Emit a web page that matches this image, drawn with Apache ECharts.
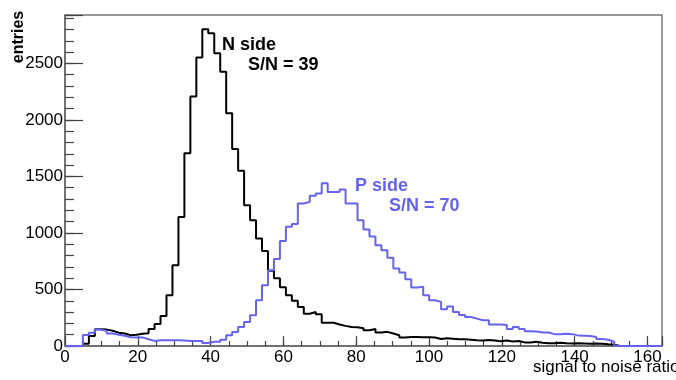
<!DOCTYPE html>
<html>
<head>
<meta charset="utf-8">
<script src="https://cdn.jsdelivr.net/npm/echarts@6/dist/echarts.min.js"></script>
<style>
  html, body { margin: 0; padding: 0; background: #fff; }
  #chart { width: 676px; height: 380px; }
</style>
</head>
<body>
<div id="chart"></div>
<script>
// histogram: 100 bins of width 1.64 from 0 to 164
const X_MAX = 164;
const BIN_WIDTH = 1.64;
const N_BINS = 100;
const Y_MAX = 2928;

// N side entries per bin (bins 0..91, the rest are empty)
const nSide = [
    0, 0, 0, 20, 89, 148, 145, 135, 118, 110,
    95, 100, 108, 112, 150, 195, 265, 449, 714, 1142,
    1704, 2206, 2552, 2802, 2767, 2590, 2427, 2058, 1742, 1550,
    1245, 1113, 951, 841, 665, 600, 520, 450, 400, 345,
    285, 300, 280, 205, 205, 190, 178, 168, 165, 158,
    140, 150, 120, 125, 110, 95, 75, 80, 80, 78,
    78, 75, 62, 68, 65, 60, 60, 55, 50, 48,
    52, 48, 42, 48, 40, 45, 32, 30, 38, 28,
    25, 25, 28, 24, 22, 24, 22, 20, 22, 20,
    15, 12
];

// P side entries per bin
const pSide = [
    0, 0, 0, 98, 118, 145, 132, 110, 100, 90,
    78, 76, 76, 60, 45, 50, 50, 50, 50, 48,
    45, 45, 45, 27, 38, 38, 56, 95, 124, 168,
    213, 272, 405, 537, 670, 770, 928, 1054, 1080, 1260,
    1275, 1330, 1350, 1440, 1363, 1363, 1384, 1260, 1260, 1113,
    1030, 968, 891, 847, 780, 685, 650, 590, 518, 525,
    449, 405, 390, 325, 350, 301, 275, 257, 242, 228,
    228, 190, 190, 185, 150, 168, 150, 130, 128, 120,
    120, 105, 105, 108, 105, 92, 90, 88, 80, 62,
    55, 38
];

const BLUE = '#6464ee';
const font = "'Liberation Sans', Arial, sans-serif";
const TICK = '#444';

function toSteps(vals) {
    let pts = [];
    for (let i = 0; i < N_BINS; i++) {
        pts.push([i * BIN_WIDTH, vals[i] || 0]);
    }
    pts.push([X_MAX, 0]);
    return pts;
}

let chart = echarts.init(document.getElementById('chart'), null, { renderer: 'canvas' });

let option = {
    animation: false,
    backgroundColor: '#fff',
    grid: {
        left: 65, right: 14, top: 15, bottom: 34,
        show: true, borderColor: '#777', borderWidth: 1.5
    },
    xAxis: [ {
        type: 'value', min: 0, max: X_MAX, interval: 20,
        axisLine: { show: true, onZero: false, lineStyle: { color: '#666', width: 1.5 } },
        axisTick: { show: true, inside: true, length: 10, lineStyle: { color: TICK, width: 1.2 } },
        splitLine: { show: false },
        axisLabel: {
            margin: 3, color: '#000', fontSize: 17, fontFamily: font,
            formatter: function (v) { return v % 20 === 0 ? String(v) : ''; }
        }
    }, {
        type: 'value', min: 0, max: X_MAX, interval: 5, position: 'bottom',
        axisLine: { show: false, onZero: false },
        axisTick: { show: true, inside: true, length: 5, lineStyle: { color: TICK, width: 1.2 } },
        splitLine: { show: false },
        axisLabel: { show: false }
    } ],
    yAxis: [ {
        type: 'value', min: 0, max: Y_MAX, interval: 500,
        axisLine: { show: true, onZero: false, lineStyle: { color: '#666', width: 1.5 } },
        axisTick: { show: true, inside: true, length: 18, lineStyle: { color: TICK, width: 1.2 } },
        splitLine: { show: false },
        axisLabel: {
            margin: 2, color: '#000', fontSize: 17, fontFamily: font,
            formatter: function (v) { return v % 500 === 0 ? String(v) : ''; }
        }
    }, {
        type: 'value', min: 0, max: Y_MAX, interval: 100, position: 'left', offset: 0,
        axisLine: { show: false, onZero: false },
        axisTick: { show: true, inside: true, length: 9, lineStyle: { color: TICK, width: 1.2 } },
        splitLine: { show: false },
        axisLabel: { show: false }
    } ],
    graphic: [
        { type: 'text', x: 19, y: 37, rotation: Math.PI / 2, z: 10,
          style: { text: 'entries', fill: '#000', font: 'bold 16px ' + font,
                   textAlign: 'center', textVerticalAlign: 'middle' } },
        { type: 'text', x: 533, y: 367, z: 10,
          style: { text: 'signal to noise ratio', fill: '#000', font: '17px ' + font,
                   textVerticalAlign: 'middle' } },
        { type: 'text', x: 222, y: 45, z: 10,
          style: { text: 'N side', fill: '#000', font: 'bold 18px ' + font, textVerticalAlign: 'middle' } },
        { type: 'text', x: 248, y: 65, z: 10,
          style: { text: 'S/N = 39', fill: '#000', font: 'bold 18px ' + font, textVerticalAlign: 'middle' } },
        { type: 'text', x: 355, y: 186, z: 10,
          style: { text: 'P side', fill: BLUE, font: 'bold 18px ' + font, textVerticalAlign: 'middle' } },
        { type: 'text', x: 389, y: 206, z: 10,
          style: { text: 'S/N = 70', fill: BLUE, font: 'bold 18px ' + font, textVerticalAlign: 'middle' } }
    ],
    series: [ {
        name: 'N side', type: 'line', step: 'end', showSymbol: false,
        xAxisIndex: 0, yAxisIndex: 0,
        lineStyle: { color: '#000', width: 2 },
        data: toSteps(nSide)
    }, {
        name: 'P side', type: 'line', step: 'end', showSymbol: false,
        xAxisIndex: 0, yAxisIndex: 0,
        lineStyle: { color: BLUE, width: 2 },
        data: toSteps(pSide)
    } ]
};

chart.setOption(option);
</script>
</body>
</html>
